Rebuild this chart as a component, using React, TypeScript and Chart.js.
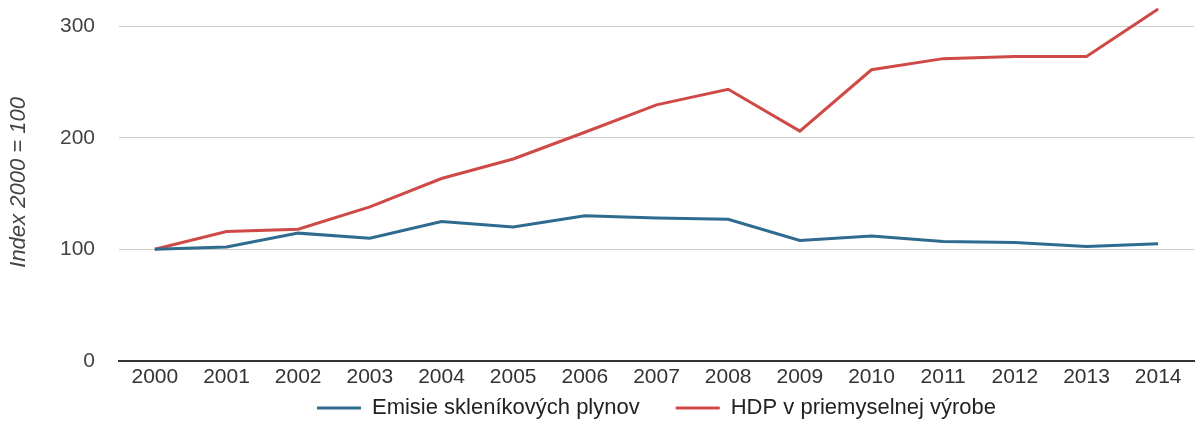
import React, { useEffect, useRef } from "react";
import { Chart, registerables } from "chart.js";

Chart.register(...registerables);

const years = ["2000", "2001", "2002", "2003", "2004", "2005", "2006", "2007", "2008", "2009", "2010", "2011", "2012", "2013", "2014"];
const emisie = [100, 102, 114.5, 110, 125, 120, 130, 128, 127, 108, 112, 107, 106, 102.5, 105];
const hdp = [100, 116, 118, 138, 163.5, 181, 205, 229.5, 243.5, 206, 261, 271, 273, 273, 315.5];
const yTicks = [0, 100, 200, 300];
const seriesNames = ["Emisie skleníkových plynov", "HDP v priemyselnej výrobe"];
const yTitle = "Index 2000 = 100";

const BLUE = "#2f6b8e";
const RED = "#cf4a47";
const FONT = "'Liberation Sans', Arial, sans-serif";
const LEGEND_PAD = 36;
const LEGEND_ITEM_TOP = 397;

const legendShift = {
  id: "legendShift",
  afterLayout(chart: any) {
    const lg = chart.legend;
    const ca = chart.chartArea;
    if (lg && ca) {
      lg.top = LEGEND_ITEM_TOP - LEGEND_PAD;
      lg.bottom = chart.height;
      const dx = (ca.left + ca.right) / 2 - (lg.left + lg.right) / 2;
      lg.left += dx;
      lg.right += dx;
    }
  },
};

export default function App() {
  const ref = useRef<HTMLCanvasElement | null>(null);

  useEffect(() => {
    document.body.style.margin = "0";
    const canvas = ref.current;
    if (!canvas) return;
    const chart = new Chart(canvas, {
      type: "line",
      data: {
        labels: years,
        datasets: [
          {
            label: seriesNames[0],
            data: emisie,
            borderColor: BLUE,
            backgroundColor: BLUE,
            borderWidth: 3,
            pointRadius: 0,
            tension: 0,
          },
          {
            label: seriesNames[1],
            data: hdp,
            borderColor: RED,
            backgroundColor: RED,
            borderWidth: 3,
            pointRadius: 0,
            tension: 0,
          },
        ],
      },
      plugins: [legendShift],
      options: {
        animation: false,
        responsive: false,
        maintainAspectRatio: false,
        layout: { padding: { top: 4, right: 2, left: 0, bottom: 0 } },
        plugins: {
          tooltip: { enabled: false },
          legend: {
            position: "bottom",
            maxHeight: 27,
            labels: {
              usePointStyle: true,
              pointStyle: "line",
              pointStyleWidth: 44,
              padding: LEGEND_PAD,
              color: "#222",
              font: { family: FONT, size: 22 },
            },
          },
        },
        scales: {
          x: {
            offset: true,
            grid: { display: false, drawTicks: false },
            border: { display: true, color: "#333", width: 2 },
            ticks: {
              color: "#333",
              padding: 4,
              maxRotation: 0,
              autoSkip: false,
              font: { family: FONT, size: 21 },
            },
          },
          y: {
            min: 0,
            max: 320,
            afterBuildTicks: (s: any) => {
              s.ticks = yTicks.map((v) => ({ value: v }));
            },
            grid: {
              drawTicks: false,
              color: (c: any) => (c.tick && c.tick.value === 0 ? "rgba(0,0,0,0)" : "#cccccc"),
              lineWidth: 1,
            },
            border: { display: false },
            ticks: {
              color: "#444",
              padding: 24,
              font: { family: FONT, size: 21 },
            },
            title: {
              display: true,
              text: yTitle,
              color: "#444",
              padding: { top: 6, bottom: 4 },
              font: { family: FONT, size: 22, style: "italic" },
            },
            afterFit: (s: any) => {
              s.width = 119;
              s.paddingTop = 0;
              s.paddingBottom = 0;
            },
          },
        },
      },
    });
    return () => chart.destroy();
  }, []);

  return (
    <div style={{ width: 1196, height: 421 }}>
      <canvas ref={ref} width={1196} height={421} style={{ display: "block" }} />
    </div>
  );
}
